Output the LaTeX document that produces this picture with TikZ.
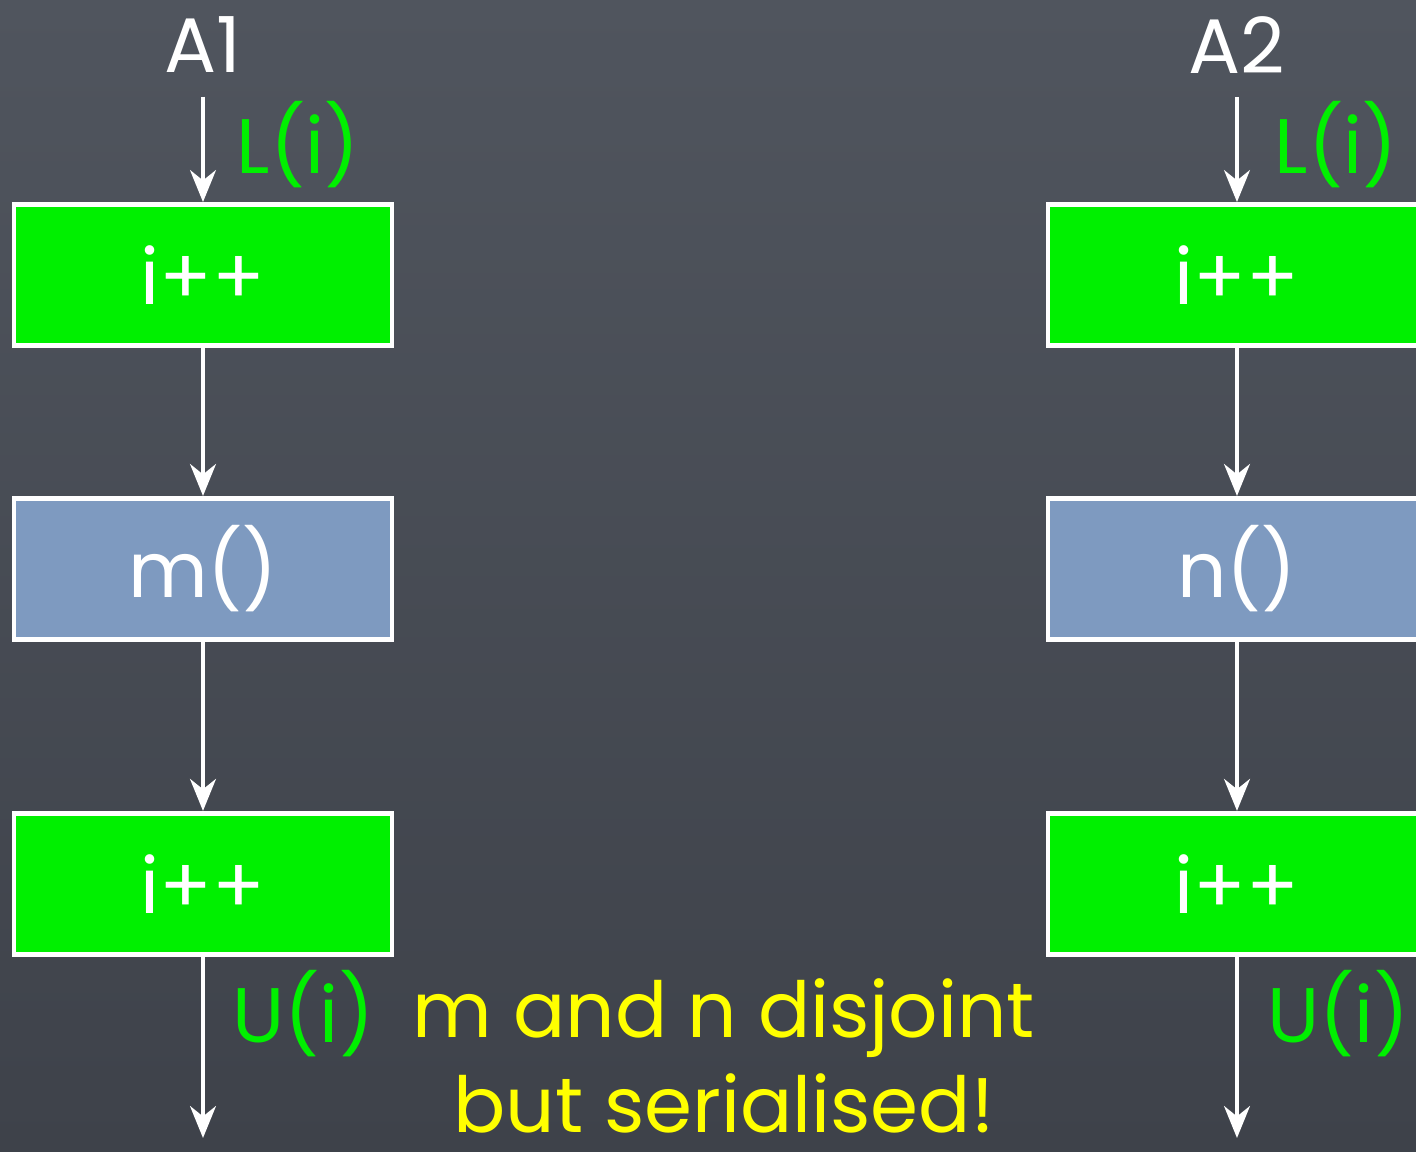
\documentclass[tikz,border=0pt]{standalone}
\usepackage{fontspec}
\setmainfont{Poppins}
\usetikzlibrary{positioning,arrows.meta}
\definecolor{slate}{HTML}{50555E}
\definecolor{slatedark}{HTML}{3E424A}
\definecolor{lockgreen}{HTML}{00F000}
\definecolor{methodblue}{HTML}{7E9AC0}
\definecolor{chalkyellow}{HTML}{FFFF00}

\begin{document}
\begin{tikzpicture}[
  opbox/.style={draw=white,line width=1.4pt,minimum width=3.78cm,minimum height=1.41cm,
    inner sep=0pt,text=white,font=\fontsize{22}{24}\selectfont},
  lockop/.style={opbox,fill=lockgreen},
  callop/.style={opbox,fill=methodblue},
  flow/.style={-{Stealth[length=3.2mm,width=2.6mm]},white,line width=0.9pt},
  lockmark/.style={text=lockgreen,font=\fontsize{22}{24}\selectfont,anchor=west,inner sep=0pt},
  thread/.style={text=white,font=\fontsize{22}{24}\selectfont,inner sep=0pt}
]
% background
\shade[top color=slate,bottom color=slatedark] (0,0) rectangle (14.16,11.52);
\useasboundingbox (0,0) rectangle (14.16,11.52);
\clip (0,0) rectangle (14.16,11.52);

% thread A1
\node[thread] (a1) at (2.03,11.07) {A1};
\node[lockop] (inc1) at (2.03,8.77) {i++};
\node[callop,below=1.48cm of inc1] (m) {m()};
\node[lockop,below=1.69cm of m] (dec1) {i++};
\coordinate (end1) at (2.03,0.14);
\draw[flow,shorten <=2.3mm] (a1) -- (inc1);
\draw[flow] (inc1) -- (m);
\draw[flow] (m) -- (dec1);
\draw[flow] (dec1) -- (end1);
\node[lockmark] (lock1) at (2.36,10.07) {L(i)};
\node[lockmark] (unlock1) at (2.32,1.38) {U(i)};

% thread A2
\node[thread] (a2) at (12.37,11.07) {A2};
\node[lockop] (inc2) at (12.37,8.77) {i++};
\node[callop,below=1.48cm of inc2] (n) {n()};
\node[lockop,below=1.69cm of n] (dec2) {i++};
\coordinate (end2) at (12.37,0.14);
\draw[flow,shorten <=2.3mm] (a2) -- (inc2);
\draw[flow] (inc2) -- (n);
\draw[flow] (n) -- (dec2);
\draw[flow] (dec2) -- (end2);
\node[lockmark] (lock2) at (12.74,10.07) {L(i)};
\node[lockmark] (unlock2) at (12.67,1.38) {U(i)};

% remark
\node[text=chalkyellow,align=center,font=\fontsize{22}{27}\selectfont,inner sep=0pt,anchor=north]
  (note) at (7.24,1.74) {m and n disjoint\\\raisebox{0pt}[\height][0pt]{but serialised!}};
\end{tikzpicture}
\end{document}
